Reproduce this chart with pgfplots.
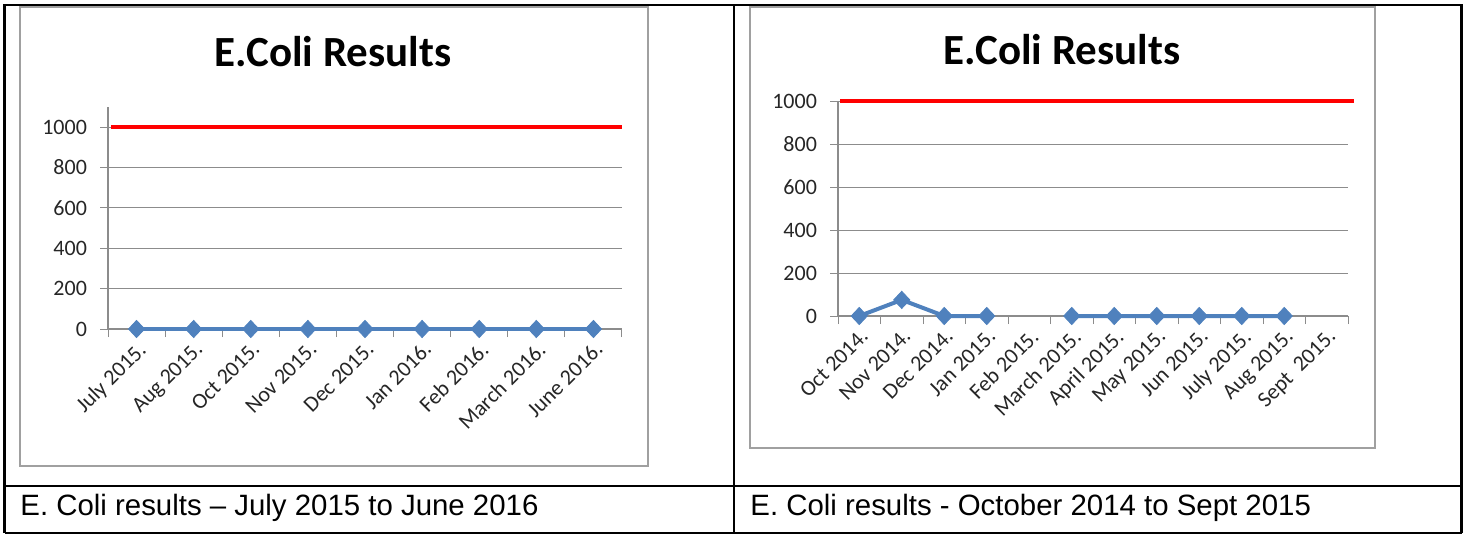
\documentclass[border=0pt]{standalone}
\usepackage{fontspec}
\setmainfont{Carlito}
\newfontfamily\arial{Liberation Sans}
\usepackage{pgfplots}
\pgfplotsset{compat=1.18}
\usepackage{pgfplotstable}

\definecolor{xlblue}{HTML}{4F81BD}
\definecolor{xlgrid}{HTML}{8C8C8C}
\definecolor{xlframe}{HTML}{A0A0A0}
\definecolor{xltext}{HTML}{262626}

% left chart: July 2015 - June 2016
\pgfplotstableread{
x y
0 0
1 0
2 0
3 0
4 0
5 0
6 0
7 0
8 0
}\lefttab

% right chart: Oct 2014 - Sept 2015 (no result for Feb and Sept)
\pgfplotstableread{
x y
0 0
1 75
2 0
3 0
4 nan
5 0
6 0
7 0
8 0
9 0
10 0
11 nan
}\righttab

\pgfplotsset{
  xlchart/.style={
    scale only axis,
    anchor=south west,
    axis x line*=bottom,
    axis y line*=left,
    axis line style={draw=xlgrid, line width=0.6pt},
    ymin=0,
    ytick={0,200,...,1000},
    ymajorgrids,
    grid style={draw=xlgrid, line width=0.5pt},
    tick align=outside,
    major tick length=4pt,
    tick style={draw=xlgrid, line width=0.5pt},
    x tick label as interval,
    xticklabel style={rotate=45, anchor=north east, inner sep=1pt, text=xltext, font=\fontsize{11pt}{13pt}\selectfont},
    yticklabel style={xshift=-3pt, text=xltext, font=\fontsize{11pt}{13pt}\selectfont},
    /pgf/number format/assume math mode=true,
    /pgf/number format/1000 sep={},
    clip=false,
    unbounded coords=jump,
  },
  limit/.style={red, line width=1.75pt},
  ecoli/.style={xlblue, line width=2pt, mark=diamond*, mark size=4.3pt,
    mark options={fill=xlblue, draw=xlblue, line width=0.4pt, xscale=1.25}},
}

\begin{document}
\begin{tikzpicture}[x=0.5pt, y=0.5pt]
\path (0,0) rectangle (1464,534);

% chart frames
\draw[xlframe, line width=1pt] (20,527) rectangle (648,68);
\draw[xlframe, line width=1pt] (750,527) rectangle (1375,86);

% titles
\node[font=\fontsize{21.5pt}{24pt}\selectfont\bfseries] at (333,482) {E.Coli Results};
\node[font=\fontsize{21.5pt}{24pt}\selectfont\bfseries] at (1062,484) {E.Coli Results};

\begin{axis}[xlchart,
  at={(54pt,102.5pt)}, width=257pt, height=111pt,
  xmin=-0.5, xmax=8.5, ymax=1100,
  xtick={-0.5,0.5,...,8.5},
  xticklabels={July 2015.,Aug 2015.,Oct 2015.,Nov 2015.,Dec 2015.,Jan 2016.,Feb 2016.,March 2016.,June 2016.},
]
\addplot[limit] coordinates {(-0.45,1000) (8.5,1000)};
\addplot[ecoli] table[x=x, y=y] {\lefttab};
\end{axis}

\begin{axis}[xlchart,
  at={(419pt,109pt)}, width=255pt, height=107.5pt,
  xmin=-0.5, xmax=11.5, ymax=1000,
  xtick={-0.5,0.5,...,11.5},
  xticklabels={Oct 2014.,Nov 2014.,Dec 2014.,Jan 2015.,Feb 2015.,March 2015.,April 2015.,May 2015.,Jun 2015.,July 2015.,Aug 2015.,Sept\ \ 2015.},
]
\addplot[limit] coordinates {(-0.45,1000) (11.65,1000)};
\addplot[ecoli] table[x=x, y=y] {\righttab};
\end{axis}

% table rules
\draw[black, line width=1.25pt] (4.5,1) -- (4.5,529) -- (1461.5,529) -- (1461.5,1);
\draw[black, line width=1.25pt] (734,1) -- (734,529);
\draw[black, line width=1.25pt] (4.5,48) -- (1461.5,48);
\draw[black, line width=1.25pt] (4.5,1) -- (1461.5,1);

% captions
\node[anchor=base west, inner sep=0pt, font=\arial\fontsize{14.7pt}{17pt}\selectfont] at (20,19) {E. Coli results – July 2015 to June 2016};
\node[anchor=base west, inner sep=0pt, font=\arial\fontsize{14.7pt}{17pt}\selectfont] at (750,19) {E. Coli results - October 2014 to Sept 2015};
\end{tikzpicture}
\end{document}
